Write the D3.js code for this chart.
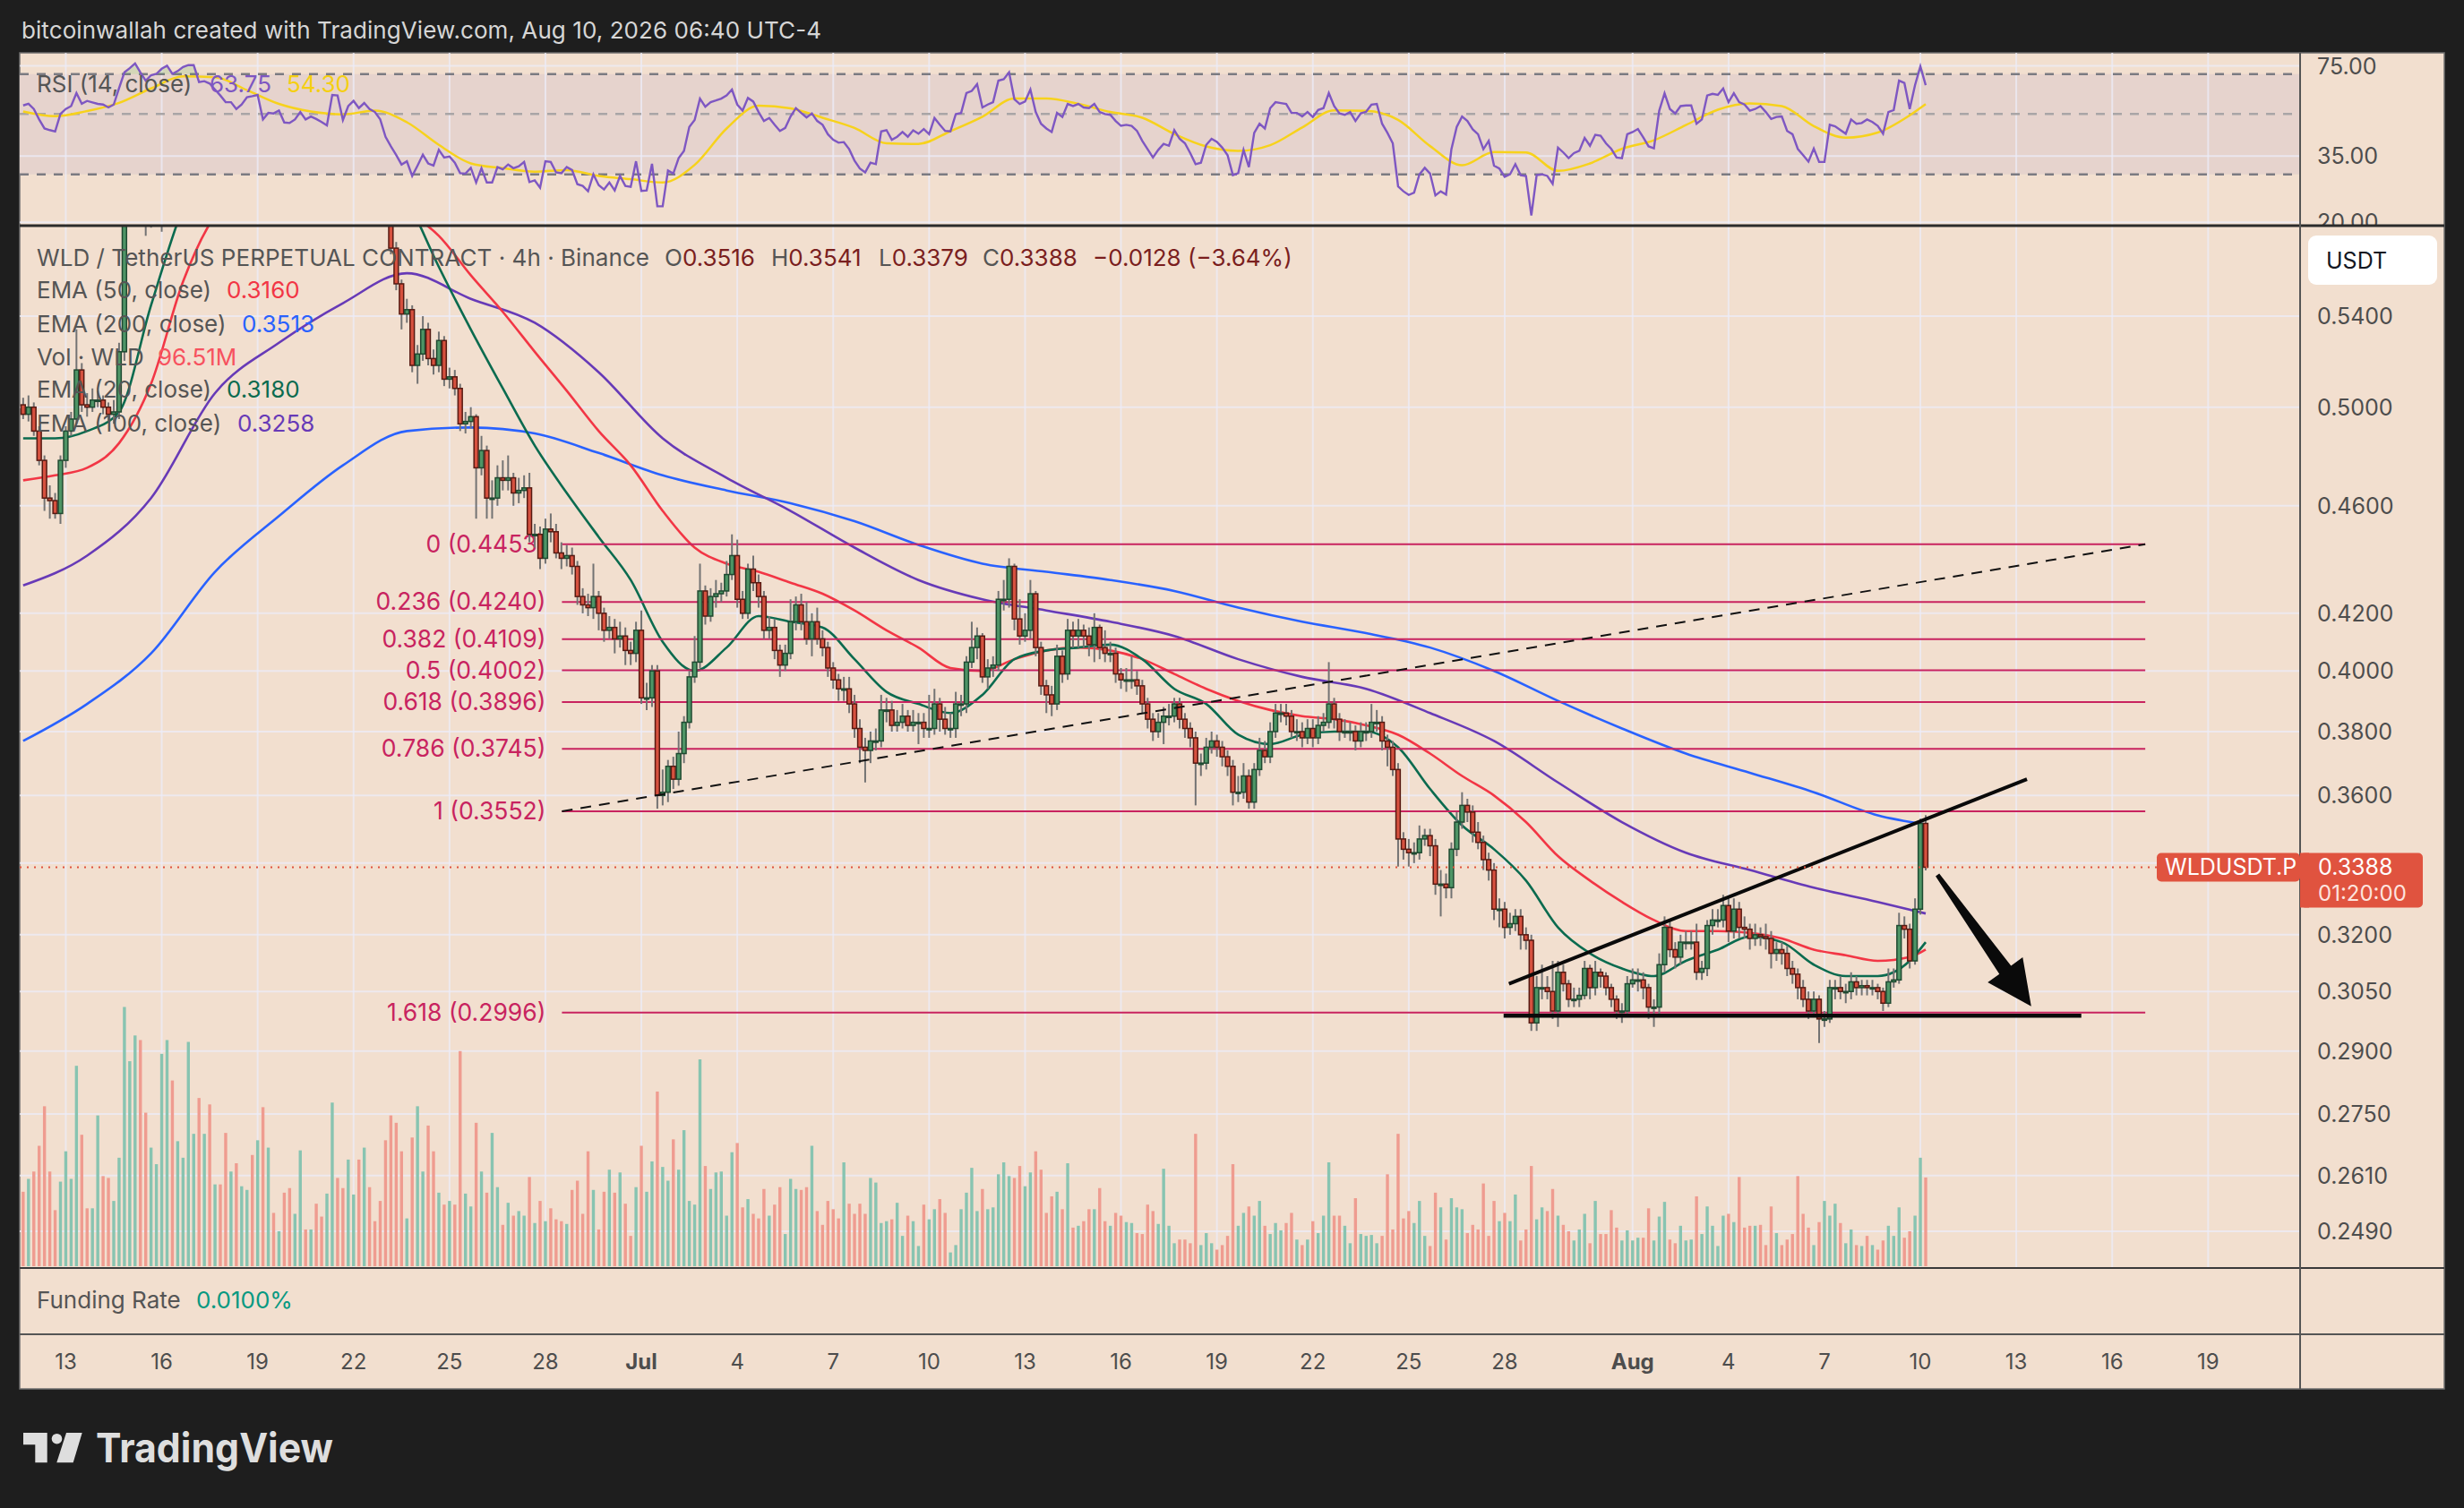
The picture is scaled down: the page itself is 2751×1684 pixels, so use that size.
<!DOCTYPE html>
<html><head><meta charset="utf-8">
<script src="https://cdn.jsdelivr.net/npm/d3@7"></script>
<style>html,body{margin:0;padding:0;background:#1e1e1e;overflow:hidden}svg{display:block}text{font-family:Inter,"Noto Sans",sans-serif}</style>
</head><body><svg id="c" width="2751" height="1684"></svg>
<script>
// ---------------- DATA ----------------
const startTime = "2026-06-11T16:00:00Z"; // first 4h candle
const open0 = 0.501;
const closes = [
.497,.500,.490,.478,.463,.462,.457,.478,.490,.495,.516,.501,.500,.503,.503,.500,.497,.498,.524,.590,.612,
.628,.618,.606,.622,.641,.655,.668,.652,.660,.674,.688,.701,.684,.693,.676,.687,.671,.659,.668,.654,.662,.675,.661,.668,.652,.660,.646,.653,.640,.628,.636,.645,.632,.638,.625,.614,.622,.630,.618,.607,.614,.621,.610,.616,.605,.602,.597,.593,
.572,.555,.541,.543,.518,.523,.534,.521,.518,.529,.512,.513,.508,.493,.494,.496,
.475,.482,.463,.463,.471,.470,.471,.465,.466,.467,.449,.449,.440,.451,.450,.442,.440,.441,.437,.426,
.423,.422,.426,.420,.414,.415,.411,.412,.407,.406,.414,.391,.391,.400,.360,.361,.369,.365,.373,.383,
.398,.403,.428,.419,.426,.427,.428,.434,.441,.425,.420,.436,.431,.426,.414,.415,.407,.402,.406,.417,
.423,.417,.411,.417,.411,.408,.401,.397,.394,.394,.389,.381,.375,.374,.377,.377,.387,.387,.382,.383,
.385,.382,.383,.383,.381,.381,.389,.384,.381,.381,
.389,.389,.403,.408,.412,.398,.401,.402,.425,.425,.437,.418,.412,.414,.427,.408,.395,.392,.389,.405,
.399,.414,.412,.414,.412,.409,.415,.408,.406,.406,.399,.397,.397,.397,.395,.389,.384,.380,.383,.385,
.385,.389,.384,.381,.378,.370,.370,.375,.377,.375,.372,.369,.361,.361,.366,.358,.368,.374,.372,.380,
.386,.386,.385,.380,.380,.378,.381,.378,.382,.383,.389,.384,.380,.380,.380,.377,.380,.380,.383,.383,
.377,.375,.368,.347,.344,.343,.343,.347,.348,
.345,.334,.334,.333,.344,.352,.357,.355,.349,.346,.341,.338,.327,.327,.322,.323,.325,.320,.3185,.297,
.306,.306,.305,.300,.310,.307,.303,.303,.304,.311,.306,.310,.309,.306,.303,.300,.300,.307,.308,.308,
.306,.301,.301,.312,.322,.316,.314,.318,.318,.318,.310,.311,.3225,.324,.324,.328,.321,.327,.322,.3215,
.319,.320,.3195,.319,.315,.316,.315,.311,.3095,.306,.303,.300,.303,.298,.298,.306,.306,.305,.305,.3075,
.306,.3065,.306,.306,.305,.302,.3075,.308,.3225,.3215,.313,.327,.3516,.3388];
const highs = [
.504,.505,.502,.492,.480,.468,.465,.480,.492,.498,.534,.519,.506,.508,.507,.505,.502,.503,.528,.598,
.618,.634,.636,.624,.630,.648,.662,.675,.676,.667,.681,.694,.710,.706,.699,.697,.692,.690,.675,.673,
.671,.667,.680,.679,.673,.671,.665,.663,.658,.656,.643,.641,.650,.648,.643,.641,.629,.627,.635,.633,
.621,.619,.626,.624,.620,.619,.610,.606,.601,.596,.575,.557,.548,.545,.527,.540,.537,.525,.533,.531,
.517,.516,.510,.498,.500,.497,.488,.484,.470,.476,.478,.480,.473,.471,.472,.473,.453,.452,.455,.457,
.453,.446,.445,.444,.439,.429,.427,.438,.428,.422,.419,.418,.417,.415,.410,.417,.421,.396,.402,.402,
.368,.371,.372,.380,.385,.400,.412,.438,.430,.429,.432,.431,.439,.449,.447,.428,.438,.441,.434,.428,
.419,.418,.409,.409,.425,.426,.427,.424,.420,.422,.414,.410,.403,.399,.398,.398,.392,.384,.378,.380,
.381,.392,.391,.390,.387,.389,.387,.387,.386,.386,.392,.394,.391,.388,.386,.393,.392,.405,.417,.415,
.413,.404,.405,.428,.432,.440,.438,.425,.420,.432,.428,.410,.397,.395,.409,.407,.418,.417,.418,.416,
.415,.420,.416,.414,.410,.408,.401,.401,.405,.400,.397,.391,.386,.386,.388,.389,.391,.391,.386,.383,
.380,.373,.378,.380,.379,.377,.374,.371,.366,.370,.368,.370,.378,.377,.383,.389,.389,.389,.387,.384,
.383,.384,.384,.385,.386,.403,.391,.386,.384,.383,.382,.383,.383,.389,.387,.385,.379,.377,.370,.349,
.347,.346,.351,.350,.350,.347,.338,.337,.346,.355,.361,.359,.357,.352,.348,.343,.340,.330,.329,.326,
.327,.327,.322,.320,.309,.312,.309,.313,.313,.312,.308,.306,.306,.313,.312,.313,.311,.310,.307,.304,
.302,.309,.311,.311,.310,.307,.303,.315,.325,.324,.318,.320,.321,.321,.323,.313,.324,.327,.327,.331,
.330,.330,.329,.325,.323,.323,.322,.323,.321,.318,.318,.317,.313,.311,.308,.305,.305,.304,.300,.308,
.308,.309,.307,.310,.309,.308,.308,.308,.307,.306,.311,.311,.326,.325,.323,.330,.3530,.3541];
const lows = [
.495,.494,.488,.476,.458,.455,.455,.453,.475,.488,.493,.498,.496,.498,.500,.497,.494,.493,.495,.520,
.585,.598,.586,.578,.582,.600,.580,.640,.645,.646,.655,.668,.682,.678,.679,.670,.671,.665,.652,.654,
.648,.649,.657,.656,.656,.647,.647,.641,.642,.635,.622,.624,.631,.627,.628,.620,.609,.610,.617,.613,
.602,.603,.610,.605,.606,.600,.597,.592,.588,.569,.552,.534,.537,.515,.510,.520,.518,.514,.515,.509,
.508,.505,.490,.489,.491,.455,.472,.455,.455,.460,.466,.466,.460,.461,.463,.446,.444,.436,.438,.446,
.440,.436,.437,.434,.423,.420,.419,.418,.414,.410,.411,.406,.408,.402,.402,.403,.389,.387,.388,.356,
.357,.358,.362,.363,.370,.381,.396,.401,.416,.417,.422,.424,.426,.432,.422,.418,.418,.428,.422,.411,
.411,.404,.398,.400,.404,.414,.414,.409,.405,.409,.405,.398,.394,.390,.390,.386,.378,.370,.364,.370,
.374,.375,.383,.380,.380,.381,.380,.380,.376,.378,.378,.379,.380,.379,.378,.378,.385,.386,.401,.404,
.396,.394,.398,.400,.421,.422,.414,.409,.410,.411,.405,.392,.386,.385,.387,.396,.397,.408,.408,.408,
.405,.403,.404,.403,.403,.396,.394,.393,.394,.392,.386,.381,.377,.378,.376,.382,.383,.381,.378,.375,
.357,.366,.368,.373,.372,.369,.366,.357,.358,.359,.356,.356,.366,.370,.370,.378,.383,.382,.378,.377,
.375,.376,.375,.376,.380,.381,.381,.377,.378,.377,.374,.375,.377,.378,.380,.374,.369,.366,.339,.341,
.339,.340,.341,.345,.342,.331,.325,.330,.330,.342,.350,.352,.346,.344,.338,.335,.324,.322,.319,.320,
.321,.316,.316,.295,.295,.303,.303,.298,.296,.305,.301,.301,.301,.303,.303,.304,.306,.304,.301,.298,
.297,.299,.306,.305,.303,.298,.296,.299,.310,.314,.311,.312,.316,.316,.308,.308,.309,.320,.322,.322,
.318,.319,.319,.319,.316,.317,.317,.316,.311,.313,.312,.309,.307,.303,.301,.298,.299,.292,.296,.297,
.303,.303,.302,.303,.304,.304,.304,.304,.303,.300,.301,.306,.307,.319,.311,.312,.3255,.3379];
const volumesM = [
81,95,103,131,174,103,61,92,125,95,218,143,63,63,164,98,96,71,118,282,
223,251,246,167,129,111,231,246,202,136,118,244,144,183,144,176,89,89,145,103,
112,87,83,121,137,173,129,58,38,80,85,57,126,40,40,68,54,79,178,96,
85,116,78,116,129,86,49,71,137,164,156,125,52,140,174,103,153,125,80,67,
71,67,234,79,65,156,103,80,145,86,45,69,55,60,55,97,47,71,49,63,
51,49,46,83,93,57,125,83,40,81,105,80,102,68,33,86,131,81,114,190,
108,93,138,105,148,71,67,225,109,84,102,103,55,124,134,64,73,57,52,84,
55,67,86,35,95,84,83,86,131,60,45,71,62,52,113,68,57,68,57,96,
91,47,49,51,69,33,55,49,22,67,51,62,73,58,15,23,62,80,107,60,
84,62,64,100,113,98,96,109,87,102,125,105,58,76,81,62,112,42,44,49,
62,62,85,49,44,58,55,48,47,36,35,67,60,46,106,44,25,29,29,25,
144,23,36,25,18,23,33,111,44,58,65,55,71,44,35,47,39,47,58,29,
23,29,49,36,55,113,55,55,44,25,74,35,33,34,25,33,100,40,144,52,
60,47,71,33,22,80,64,29,74,64,62,36,45,40,90,33,71,49,58,49,
78,28,40,109,51,64,60,84,55,45,38,28,40,57,25,71,35,35,61,42,
28,39,28,31,31,63,28,54,70,29,25,44,28,29,76,35,65,44,22,55,
57,48,97,42,44,44,45,23,65,36,23,29,35,98,57,42,23,48,71,55,
68,47,25,40,23,22,33,23,18,28,44,33,64,31,38,55,118,96.51];
const rsiValues = [
53.7,54.5,52.1,47.7,44.2,43.6,43.1,50.0,52.1,53.4,59.6,54.5,55.8,55.1,54.4,54.1,52.8,54.1,62.2,71.0,
73.6,76.6,71.0,66.2,69.3,70.1,73.2,75.1,70.1,71.8,74.3,75.5,75.5,65.4,65.9,64.6,61.4,58.4,55.2,55.2,
52.1,54.1,57.6,58.1,58.7,47.7,50.4,50.2,51.4,46.5,46.3,47.7,50.8,47.7,48.9,47.9,46.7,45.4,58.7,58.4,
47.5,53.4,55.8,52.5,54.8,52.1,50.8,47.7,41.2,38.0,35.3,32.6,33.5,29.6,32.3,35.4,32.9,32.3,36.9,34.6,
34.9,33.1,30.3,30.2,31.7,28.0,31.6,28.0,28.0,31.9,31.3,32.6,31.6,32.1,33.3,28.1,28.5,26.8,33.5,33.3,
30.5,30.3,31.9,31.1,27.6,27.2,26.0,30.0,27.4,26.4,28.0,26.2,29.6,27.2,27.0,33.5,26.1,26.2,32.8,22.9,
22.9,31.0,30.2,34.4,36.6,44.8,47.5,56.9,53.1,55.2,56.0,56.9,58.4,61.4,54.1,51.4,57.2,55.5,50.8,47.1,
48.3,45.6,43.3,44.4,48.9,52.5,50.4,48.5,50.2,47.1,45.6,42.1,40.2,39.2,39.4,37.1,33.7,31.5,30.5,33.1,
32.7,43.1,43.6,40.2,41.2,42.9,41.2,43.5,42.3,44.0,42.1,48.3,45.6,43.3,43.1,49.9,50.4,59.6,60.7,64.3,
52.8,54.1,55.2,66.2,67.0,71.0,56.6,54.4,55.5,61.4,50.8,46.0,44.2,42.9,50.4,48.7,54.4,53.4,54.4,52.8,
52.5,54.4,50.8,49.9,49.6,47.1,45.2,45.6,45.2,43.3,39.8,37.1,34.6,36.9,38.8,38.2,43.6,40.5,39.0,35.9,
32.7,33.1,38.5,40.5,39.5,37.6,35.3,29.8,30.3,36.9,31.9,42.6,46.0,44.2,52.5,55.2,54.8,54.4,50.4,50.4,
48.9,50.8,48.7,51.7,52.5,59.6,53.4,50.2,49.6,50.8,47.1,50.2,50.9,54.1,54.4,46.0,42.6,39.0,27.1,26.0,
25.2,25.7,30.0,31.7,30.2,25.1,26.0,25.3,37.1,44.8,48.9,47.1,43.9,42.1,37.1,39.8,32.3,31.5,29.4,30.0,
32.7,29.8,29.6,21.2,29.8,30.0,29.6,27.7,37.6,36.1,34.4,35.9,36.6,40.8,38.2,41.9,41.6,39.0,37.2,34.6,
34.4,42.1,42.9,44.0,41.0,38.0,37.4,51.4,59.5,52.1,50.2,53.4,53.7,53.7,46.0,47.7,58.4,59.2,58.7,62.0,
55.2,59.5,55.2,54.1,51.4,52.1,53.4,50.8,47.9,48.7,48.9,43.3,42.1,37.2,35.3,33.4,37.3,33.3,33.3,45.6,
45.0,43.6,42.3,47.7,46.0,46.3,47.7,46.7,45.2,42.3,50.8,51.7,66.2,64.9,52.1,63.8,74.7,63.75];
// RSI moving average, sampled at candle numbers
const rsiMaIdx = [0,6,12,18,24,30,36,42,48,54,60,66,72,78,84,90,96,102,108,114,120,126,132,138,144,150,156,162,168,174,180,186,192,198,204,210,216,222,228,234,240,246,252,258,264,270,276,282,288,294,300,306,312,318,324,330,336,342,348,354,357];
const rsiMa = [51.0,49.0,51.2,54.9,62.0,68.6,68.2,61.1,54.4,51.0,49.8,51.4,46.6,38.5,32.9,31.6,30.7,31.1,29.6,28.8,28.0,32.5,44.2,53.6,52.4,48.4,44.4,39.0,38.8,43.2,48.8,56.9,56.9,54.4,50.8,48.4,42.2,38.0,36.6,38.4,44.6,51.5,51.3,47.5,38.1,32.4,36.2,36.1,30.9,32.9,37.2,40.0,45.5,51.8,54.6,53.4,45.1,40.9,42.7,49.4,54.3];
// EMAs sampled at candle numbers
const emaFastIdx = rsiMaIdx;
const ema20 = [.487,.487,.490,.498,.545,.592,.625,.652,.662,.655,.636,.618,.596,.563,.534,.508,.484,.465,.448,.432,.410,.400,.408,.419,.417,.415,.404,.393,.389,.386,.392,.404,.407,.408,.409,.404,.394,.389,.379,.376,.379,.380,.380,.375,.362,.351,.344,.335,.322,.315,.311,.309,.313,.316,.3195,.318,.312,.309,.309,.313,.318];
const ema50 = [.470,.472,.475,.485,.510,.556,.588,.602,.610,.612,.607,.598,.590,.578,.559,.542,.524,.507,.490,.476,.458,.444,.438,.435,.431,.427,.421,.414,.408,.401,.400,.404,.407,.408,.407,.404,.399,.394,.390,.387,.385,.384,.382,.379,.373,.366,.360,.352,.342,.335,.329,.324,.321,.321,.3205,.319,.316,.3145,.313,.314,.316];
const emaSlowIdx = [0,12,24,36,48,60,72,84,96,108,120,132,144,156,168,180,192,204,216,228,240,252,264,276,288,300,312,324,336,348,357];
const ema100 = [.430,.441,.463,.506,.528,.546,.560,.548,.537,.515,.487,.471,.458,.444,.432,.425,.421,.417,.412,.404,.398,.394,.386,.377,.364,.352,.343,.338,.333,.329,.3258];
const ema200 = [.377,.389,.406,.435,.456,.476,.490,.4915,.489,.481,.472,.466,.461,.454,.445,.438,.435,.432,.428,.422,.417,.413,.408,.400,.390,.381,.373,.367,.361,.354,.3513];
// Axis ticks
const priceTicks = [0.54,0.50,0.46,0.42,0.40,0.38,0.36,0.34,0.32,0.305,0.29,0.275,0.261,0.249];
const rsiTicks = [75,35,20];
const rsiLevels = [70,50,30];
const dateTicks = ["2026-06-13","2026-06-16","2026-06-19","2026-06-22","2026-06-25","2026-06-28","2026-07-01","2026-07-04","2026-07-07","2026-07-10","2026-07-13","2026-07-16","2026-07-19","2026-07-22","2026-07-25","2026-07-28","2026-08-01","2026-08-04","2026-08-07","2026-08-10","2026-08-13","2026-08-16","2026-08-19"];
const dateLabels = ["13","16","19","22","25","28","Jul","4","7","10","13","16","19","22","25","28","Aug","4","7","10","13","16","19"];
// Fibonacci retracement
const fibRatios = ["0","0.236","0.382","0.5","0.618","0.786","1","1.618"];
const fibPrices = [0.4453,0.4240,0.4109,0.4002,0.3896,0.3745,0.3552,0.2996];
const fibSpan = ["2026-06-28T12:24:00Z","2026-08-17T00:48:00Z"];
// Drawings (time, price)
const dashedTrend = [["2026-06-28T12:24:00Z",0.3552],["2026-08-17T00:48:00Z",0.4453]];
const risingTrend = [["2026-07-28T03:12:00Z",0.307],["2026-08-13T08:00:00Z",0.365]];
const supportLine = [["2026-07-27T23:12:00Z",0.2988],["2026-08-15T00:48:00Z",0.2988]];
const arrowPts = [["2026-08-10T12:48:00Z",0.3366],["2026-08-13T11:12:00Z",0.3012]];
const lastPrice = 0.3388;

// ---------------- LAYOUT ----------------
const L=22, R=2568, AX=2729, T=59, RB=252, MB=1416, FB=1490, B=1551;
const BG="#f2dfcf", GRID="rgba(236,236,248,0.75)", TXT="#4d4d4d";
const UP="#4e9566", UPS="#1f4a31", DN="#d6513f", DNS="#561a12", WICK="#737373";
const FIB="#c8235f";
const svg = d3.select("#c");
const t0 = new Date(startTime);
const tOf = i => d3.utcHour.offset(t0, 4*i);
const N = closes.length;
const x = d3.scaleUtc().domain([t0, tOf(N-1)]).range([25.85, 2150]);
const y = d3.scaleLog().domain([0.5, 0.249]).range([454.7, 1375]);
const yR = d3.scaleLog().domain([70, 30]).range([82.7, 194.7]);
const yV = d3.scaleLinear().domain([0, 300]).range([1414, 1106]);
const P = d => [x(new Date(d[0])), y(d[1])];

svg.append("rect").attr("width",2751).attr("height",1684).attr("fill","#1e1e1e");
svg.append("rect").attr("x",L).attr("y",T).attr("width",AX-L).attr("height",B-T).attr("fill",BG).attr("stroke","#6f6f6f").attr("stroke-width",1.5);

const defs = svg.append("defs");
defs.append("clipPath").attr("id","cr").append("rect").attr("x",L).attr("y",T).attr("width",R-L).attr("height",RB-T);
defs.append("clipPath").attr("id","cm").append("rect").attr("x",L).attr("y",RB+1).attr("width",R-L).attr("height",MB-RB-1);
defs.append("clipPath").attr("id","cra").append("rect").attr("x",R).attr("y",T).attr("width",AX-R).attr("height",RB-T-1);

// ---------- RSI pane ----------
const gR = svg.append("g").attr("clip-path","url(#cr)");
gR.append("rect").attr("x",L).attr("width",R-L).attr("y",yR(70)).attr("height",yR(30)-yR(70)).attr("fill","#e6d3cd");
dateTicks.forEach(d=>{const xx=x(new Date(d+"T00:00:00Z"));
  gR.append("line").attr("x1",xx).attr("x2",xx).attr("y1",T).attr("y2",RB).attr("stroke",GRID).attr("stroke-width",2);});
rsiTicks.forEach(v=>gR.append("line").attr("x1",L).attr("x2",R).attr("y1",yR(v)).attr("y2",yR(v)).attr("stroke",GRID).attr("stroke-width",2));
rsiLevels.forEach(v=>gR.append("line").attr("x1",L).attr("x2",R).attr("y1",yR(v)).attr("y2",yR(v))
  .attr("stroke",v===50?"#a9a5a6":"#7b7b82").attr("stroke-width",2.5).attr("stroke-dasharray","10,9"));
// overbought fill
gR.append("path").datum(rsiValues).attr("fill","rgba(76,175,80,0.18)")
  .attr("d",d3.area().x((d,i)=>x(tOf(i))).y0(yR(70)).y1(d=>yR(Math.max(d,70))));
gR.append("path").datum(rsiMaIdx.map((k,j)=>[k,rsiMa[j]])).attr("fill","none").attr("stroke","#f7d21c").attr("stroke-width",2.5)
  .attr("d",d3.line().curve(d3.curveMonotoneX).x(d=>x(tOf(d[0]))).y(d=>yR(d[1])));
gR.append("path").datum(rsiValues).attr("fill","none").attr("stroke","#7e57c2").attr("stroke-width",2.4)
  .attr("d",d3.line().x((d,i)=>x(tOf(i))).y(d=>yR(d)));
// RSI legend
const tR = svg.append("text").attr("x",41).attr("y",103).attr("font-size",26);
tR.append("tspan").attr("fill","#555").text("RSI (14, close)");
tR.append("tspan").attr("x",234).attr("fill","#7e57c2").text(rsiValues[N-1].toFixed(2));
tR.append("tspan").attr("x",320).attr("fill","#f5cf12").text(rsiMa[rsiMa.length-1].toFixed(2));
// RSI axis
const gRA = svg.append("g").attr("clip-path","url(#cra)");
rsiTicks.forEach(v=>gRA.append("text").attr("x",2587).attr("y",yR(v)+9).attr("font-size",25).attr("fill",TXT).text(v.toFixed(2)));

// ---------- Main pane ----------
const gM = svg.append("g").attr("clip-path","url(#cm)");
dateTicks.forEach(d=>{const xx=x(new Date(d+"T00:00:00Z"));
  gM.append("line").attr("x1",xx).attr("x2",xx).attr("y1",RB).attr("y2",MB).attr("stroke",GRID).attr("stroke-width",2);});
priceTicks.forEach(p=>gM.append("line").attr("x1",L).attr("x2",R).attr("y1",y(p)).attr("y2",y(p)).attr("stroke",GRID).attr("stroke-width",2));

const candles = closes.map((c,i)=>({i, t:tOf(i), o: i===0?open0:closes[i-1], c, h:highs[i], l:lows[i], v:volumesM[i]}));
// volume
gM.selectAll("rect.vol").data(candles).join("rect").attr("class","vol")
  .attr("x",d=>x(d.t)-1.7).attr("width",3.4).attr("y",d=>yV(d.v)).attr("height",d=>yV(0)-yV(d.v))
  .attr("fill",d=>d.c>=d.o?"#88c4b1":"#ef9c90");
// EMAs
const emaLine = (idx, vals, col) => gM.append("path").datum(idx.map((k,j)=>[k,vals[j]])).attr("fill","none")
  .attr("stroke",col).attr("stroke-width",2.6).attr("d",d3.line().curve(d3.curveMonotoneX).x(d=>x(tOf(d[0]))).y(d=>y(d[1])));
emaLine(emaSlowIdx, ema200, "#2962ff");
emaLine(emaSlowIdx, ema100, "#673ab7");
emaLine(emaFastIdx, ema50, "#f23645");
emaLine(emaFastIdx, ema20, "#0b6b4f");
// fib
const fx0 = x(new Date(fibSpan[0])), fx1 = x(new Date(fibSpan[1]));
fibPrices.forEach((p,k)=>{
  gM.append("line").attr("x1",fx0).attr("x2",fx1).attr("y1",y(p)).attr("y2",y(p)).attr("stroke",FIB).attr("stroke-width",2);
  gM.append("text").attr("x",fx0-18).attr("y",y(p)+9).attr("text-anchor","end").attr("font-size",26.5).attr("fill",FIB)
    .text(fibRatios[k]+" ("+p.toFixed(4)+")");
});
// candles
const gC = gM.append("g");
gC.selectAll("line.w").data(candles).join("line").attr("x1",d=>x(d.t)).attr("x2",d=>x(d.t))
  .attr("y1",d=>y(d.h)).attr("y2",d=>y(d.l)).attr("stroke",WICK).attr("stroke-width",2);
gC.selectAll("rect.b").data(candles).join("rect")
  .attr("x",d=>x(d.t)-2.4).attr("width",4.8)
  .attr("y",d=>y(Math.max(d.o,d.c))).attr("height",d=>Math.max(1.5,Math.abs(y(d.o)-y(d.c))))
  .attr("fill",d=>d.c>=d.o?UP:DN).attr("stroke",d=>d.c>=d.o?UPS:DNS).attr("stroke-width",1.5);
// drawings
const pd0=P(dashedTrend[0]), pd1=P(dashedTrend[1]);
gM.append("line").attr("x1",pd0[0]).attr("y1",pd0[1]).attr("x2",pd1[0]).attr("y2",pd1[1]).attr("stroke","#111").attr("stroke-width",2).attr("stroke-dasharray","12,9");
const pr0=P(risingTrend[0]), pr1=P(risingTrend[1]);
gM.append("line").attr("x1",pr0[0]).attr("y1",pr0[1]).attr("x2",pr1[0]).attr("y2",pr1[1]).attr("stroke","#0a0a0a").attr("stroke-width",4);
const ps0=P(supportLine[0]), ps1=P(supportLine[1]);
gM.append("line").attr("x1",ps0[0]).attr("y1",ps0[1]).attr("x2",ps1[0]).attr("y2",ps1[1]).attr("stroke","#0a0a0a").attr("stroke-width",4.5);
{
  const a0=P(arrowPts[0]), a1=P(arrowPts[1]);
  const dx=a1[0]-a0[0], dy=a1[1]-a0[1], len=Math.hypot(dx,dy), ux=dx/len, uy=dy/len, nx=-uy, ny=ux;
  const hl=50, hw=24, bx=a1[0]-ux*hl, by=a1[1]-uy*hl, w0=2.5, w1=8;
  const pts = [[a0[0]+nx*w0,a0[1]+ny*w0],[bx+nx*w1,by+ny*w1],[bx+nx*hw,by+ny*hw],a1,[bx-nx*hw,by-ny*hw],[bx-nx*w1,by-ny*w1],[a0[0]-nx*w0,a0[1]-ny*w0]];
  gM.append("path").attr("fill","#0a0a0a").attr("d","M"+pts.map(p=>p.join(",")).join("L")+"Z");
}
// last price line
gM.append("line").attr("x1",L).attr("x2",R).attr("y1",y(lastPrice)).attr("y2",y(lastPrice)).attr("stroke","#e0533f").attr("stroke-width",2).attr("stroke-dasharray","2,6");

// legend main
const lg = svg.append("g").attr("font-size",26);
lg.append("text").attr("x",41).attr("y",297).attr("fill","#555").attr("textLength",684).attr("lengthAdjust","spacing").text("WLD / TetherUS PERPETUAL CONTRACT · 4h · Binance");
const last = candles[N-1];
const ohlc = [["O",last.o,742],["H",last.h,861],["L",last.l,981],["C",last.c,1097]];
ohlc.forEach(([k,v,xx])=>{const t=lg.append("text").attr("x",xx).attr("y",297);
  t.append("tspan").attr("fill","#555").text(k); t.append("tspan").attr("fill","#7a1e1e").text(v.toFixed(4));});
const chg = last.c - last.o;
lg.append("text").attr("x",1220).attr("y",297).attr("fill","#7a1e1e")
  .text("\u2212"+Math.abs(chg).toFixed(4)+" (\u2212"+Math.abs(chg/last.o*100).toFixed(2)+"%)");
const legendRows = [
  ["EMA (50, close)", ema50[ema50.length-1].toFixed(4), "#f23645", 333, 253],
  ["EMA (200, close)", ema200[ema200.length-1].toFixed(4), "#2962ff", 371, 270],
  ["Vol \u00b7 WLD", volumesM[N-1].toFixed(2)+"M", "#f7525f", 408, 176],
  ["EMA (20, close)", ema20[ema20.length-1].toFixed(4), "#0b6b4f", 444, 253],
  ["EMA (100, close)", ema100[ema100.length-1].toFixed(4), "#673ab7", 482, 265]];
legendRows.forEach(([a,b,col,yy,vx])=>{
  lg.append("text").attr("x",41).attr("y",yy).attr("fill","#555").text(a);
  lg.append("text").attr("x",vx).attr("y",yy).attr("fill",col).text(b);
});

// ---------- separators ----------
svg.append("line").attr("x1",L).attr("x2",AX).attr("y1",RB).attr("y2",RB).attr("stroke","#2b2b2b").attr("stroke-width",3);
svg.append("line").attr("x1",L).attr("x2",AX).attr("y1",MB).attr("y2",MB).attr("stroke","#3a3a3a").attr("stroke-width",2);
svg.append("line").attr("x1",L).attr("x2",AX).attr("y1",FB).attr("y2",FB).attr("stroke","#555").attr("stroke-width",2);
svg.append("line").attr("x1",R).attr("x2",R).attr("y1",T).attr("y2",B).attr("stroke","#555").attr("stroke-width",2);

// ---------- price axis ----------
priceTicks.forEach(p=>svg.append("text").attr("x",2587).attr("y",y(p)+9).attr("font-size",25).attr("fill",TXT).text(p.toFixed(4)));
svg.append("rect").attr("x",2577).attr("y",263).attr("width",144).attr("height",55).attr("rx",9).attr("fill","#ffffff");
svg.append("text").attr("x",2597).attr("y",300).attr("font-size",25).attr("fill","#131722").text("USDT");
const yl = y(lastPrice);
svg.append("rect").attr("x",R).attr("y",yl-16).attr("width",137).attr("height",61).attr("rx",5).attr("fill","#e0533f");
svg.append("rect").attr("x",R).attr("y",yl-16).attr("width",10).attr("height",61).attr("fill","#e0533f");
svg.append("text").attr("x",2588).attr("y",yl+9).attr("font-size",25).attr("fill","#fff").text(lastPrice.toFixed(4));
svg.append("text").attr("x",2588).attr("y",yl+38).attr("font-size",24).attr("fill","#fde3de").text("01:20:00");
svg.append("rect").attr("x",2408).attr("y",yl-16).attr("width",160).attr("height",32).attr("rx",5).attr("fill","#e0533f");
svg.append("text").attr("x",2417).attr("y",yl+9).attr("font-size",25).attr("fill","#fff").text("WLDUSDT.P");

// ---------- funding pane ----------
const fr = svg.append("text").attr("x",41).attr("y",1461).attr("font-size",26);
fr.append("tspan").attr("fill","#555").text("Funding Rate");
fr.append("tspan").attr("x",219).attr("fill","#089981").text("0.0100%");

// ---------- time axis ----------
dateTicks.forEach((d,k)=>{const xx=x(new Date(d+"T00:00:00Z"));
  const isMonth = isNaN(+dateLabels[k]);
  svg.append("text").attr("x",xx).attr("y",1529).attr("text-anchor","middle").attr("font-size",24)
    .attr("font-weight",isMonth?700:400).attr("fill",TXT).text(dateLabels[k]);});

// ---------- header & logo ----------
svg.append("text").attr("x",24).attr("y",43).attr("font-size",26).attr("fill","#d6d6d6").attr("textLength",893).attr("lengthAdjust","spacing")
  .text("bitcoinwallah created with TradingView.com, Aug 10, 2026 06:40 UTC-4");
const lo = svg.append("g").attr("fill","#dedede");
lo.append("path").attr("d","M26,1600 H52.7 V1633.3 H39.3 V1613.3 H26 Z");
lo.append("circle").attr("cx",63.5).attr("cy",1606.7).attr("r",5.8);
lo.append("path").attr("d","M74,1600 H91.7 L81.7,1633.3 H63.3 Z");
lo.append("text").attr("x",107).attr("y",1633.3).attr("font-size",45).attr("font-weight",700).attr("textLength",265).attr("lengthAdjust","spacingAndGlyphs").text("TradingView");
</script></body></html>
